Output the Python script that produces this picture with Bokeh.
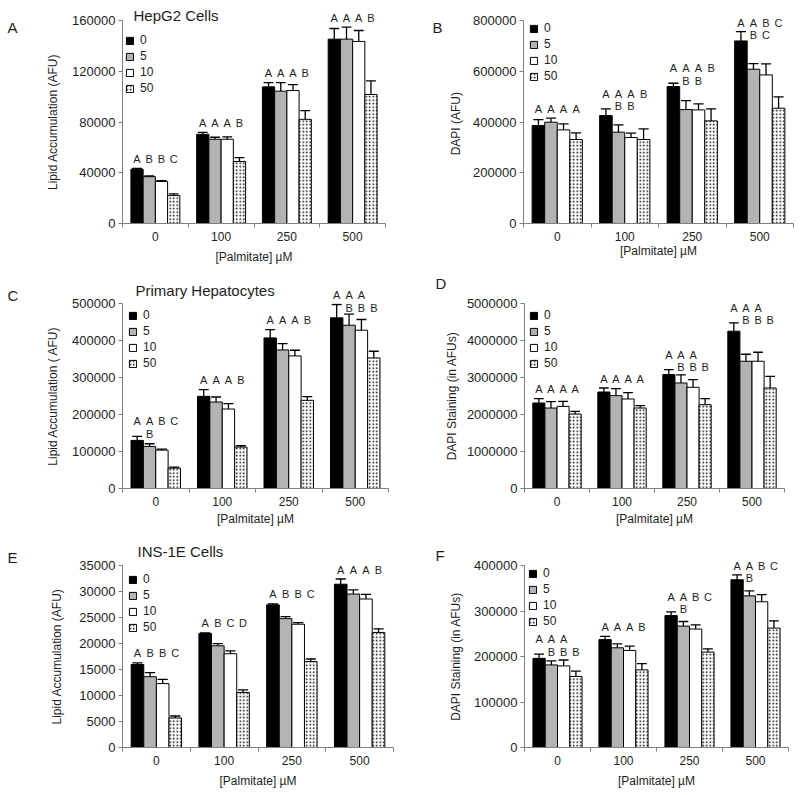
import numpy as np
from bokeh.plotting import figure
from bokeh.layouts import row, column
from bokeh.models import (Range1d, FixedTicker, NumeralTickFormatter, Label, LabelSet,
                          Legend, LegendItem, ColumnDataSource)
from bokeh.embed import file_html
from bokeh.resources import INLINE
from bokeh.core.properties import value

# ---------------- data ----------------
palmitate = ["0", "100", "250", "500"]          # x categories ([Palmitate] uM)
doses = ["0", "5", "10", "50"]                  # legend series

# rows = dose series (0, 5, 10, 50); columns = palmitate groups
hepg2_lipid_mean = [[42800, 70300, 107700, 145300],
                    [36900, 66400, 104300, 145300],
                    [33200, 66400, 104800, 143500],
                    [22000, 48900, 82100, 101700]]
hepg2_lipid_err = [[600, 1500, 3400, 8400],
                   [600, 1600, 6800, 9400],
                   [500, 1800, 4700, 8600],
                   [1300, 3100, 6800, 10700]]
hepg2_lipid_sig_top = [["A", "A", "A", "A"], ["B", "A", "A", "A"],
                       ["B", "A", "A", "A"], ["C", "B", "B", "B"]]
hepg2_lipid_sig_bot = [["", "", "", ""], ["", "", "", ""],
                       ["", "", "", ""], ["", "", "", ""]]

hepg2_dapi_mean = [[386000, 425400, 539600, 719500],
                   [399200, 359800, 449000, 607900],
                   [369000, 338800, 447700, 585600],
                   [330900, 330900, 404400, 454300]]
hepg2_dapi_err = [[23600, 26300, 13200, 36800],
                  [15700, 28800, 35500, 22300],
                  [23600, 17000, 23700, 43300],
                  [26200, 42000, 47300, 44600]]
hepg2_dapi_sig_top = [["A", "A", "A", "A"], ["A", "A", "A", "A"],
                      ["A", "A", "A", "B"], ["A", "B", "B", "C"]]
hepg2_dapi_sig_bot = [["", "", "", ""], ["", "B", "B", "B"],
                      ["", "B", "B", "C"], ["", "", "", ""]]

prim_lipid_mean = [[130000, 249100, 407000, 461200],
                   [113700, 233700, 374500, 441300],
                   [103800, 214800, 358300, 427800],
                   [55000, 111900, 238300, 352900]]
prim_lipid_err = [[10800, 18000, 22600, 36100],
                  [7200, 13600, 17200, 29800],
                  [2700, 14400, 15300, 28900],
                  [2700, 3600, 9900, 18000]]
prim_lipid_sig_top = [["A", "A", "A", "A"], ["A", "A", "A", "A"],
                      ["B", "A", "A", "A"], ["C", "B", "B", ""]]
prim_lipid_sig_bot = [["", "", "", ""], ["B", "", "", "B"],
                      ["", "", "", "B"], ["", "", "", "B"]]

prim_dapi_mean = [[2310000, 2608000, 3078000, 4251000],
                  [2175000, 2509000, 2852000, 3439000],
                  [2220000, 2419000, 2735000, 3439000],
                  [2013000, 2175000, 2265000, 2717000]]
prim_dapi_err = [[117000, 108000, 135000, 226000],
                 [171000, 190000, 217000, 190000],
                 [135000, 171000, 207000, 244000],
                 [72000, 63000, 162000, 316000]]
prim_dapi_sig_top = [["A", "A", "A", "A"], ["A", "A", "A", "A"],
                     ["A", "A", "A", "A"], ["A", "A", "", ""]]
prim_dapi_sig_bot = [["", "", "", ""], ["", "", "B", "B"],
                     ["", "", "B", "B"], ["", "", "B", "B"]]

ins_lipid_mean = [[15950, 21940, 27430, 31400],
                  [13620, 19550, 24780, 29510],
                  [12290, 18030, 23710, 28560],
                  [5680, 10590, 16520, 22130]]
ins_lipid_err = [[320, 100, 200, 1000],
                 [760, 440, 380, 820],
                 [820, 570, 320, 880],
                 [380, 500, 500, 700]]
ins_lipid_sig_top = [["A", "A", "A", "A"], ["B", "B", "B", "A"],
                     ["B", "C", "B", "A"], ["C", "D", "C", "B"]]
ins_lipid_sig_bot = [["", "", "", ""], ["", "", "", ""],
                     ["", "", "", ""], ["", "", "", ""]]

ins_dapi_mean = [[195900, 237100, 289900, 368700],
                 [181500, 219100, 266800, 333300],
                 [179300, 213300, 260300, 320300],
                 [156200, 170600, 209700, 262400]]
ins_dapi_err = [[9400, 7300, 8000, 10900],
                [8700, 8700, 10100, 10800],
                [13000, 9400, 9400, 15900],
                [11500, 13800, 7200, 16000]]
ins_dapi_sig_top = [["A", "A", "A", "A"], ["A", "A", "A", "A"],
                    ["A", "A", "B", "B"], ["", "B", "C", "C"]]
ins_dapi_sig_bot = [["", "", "", ""], ["B", "", "B", "B"],
                    ["B", "", "", ""], ["B", "", "", ""]]

# ---------------- style ----------------
FONT = "Liberation Sans"
TXT = "#1e1e1e"
AX = "#808080"
FILLS = ["#000000", "#b3b3b3", "#ffffff", "#ffffff"]
HATCH = [None, None, None, "dot"]
BW = 0.186      # bar width (category units)
CAP = 0.075     # half width of error bar caps
SIG_SIZE = "11px"
CAPH = 10.2     # px from text bottom to cap top for 11px letters


def panel(mean, err, sig_top, sig_bot, y_end, y_step, y_label, letter, title, L):
    fh = L["h"] - L["bt"] - L["bb"]
    p = figure(width=L["w"], height=L["h"], output_backend="svg", toolbar_location=None,
               title=None,
               x_range=Range1d(-0.5, len(palmitate) - 0.5), y_range=Range1d(0, y_end),
               min_border_left=L["bl"], min_border_right=L["br"],
               min_border_top=L["bt"], min_border_bottom=L["bb"])
    p.outline_line_color = None
    p.xgrid.visible = False
    p.ygrid.visible = False
    p.background_fill_color = "white"
    p.border_fill_color = "white"

    dpp = y_end / fh                       # data units per pixel
    idx = np.arange(len(palmitate), dtype=float)
    rends = []
    tops_all = []
    for j in range(len(doses)):
        xs = idx + (j - 1.5) * BW
        kw = dict(fill_color=FILLS[j], line_color="black", line_width=1)
        if HATCH[j]:
            kw.update(hatch_pattern=HATCH[j], hatch_color="black", hatch_scale=3.5,
                      hatch_weight=1.1)
        r = p.vbar(x=xs, top=mean[j], bottom=0, width=BW, **kw)
        rends.append(r)
        tops = np.array(mean[j], float) + np.array(err[j], float)
        tops_all.append(tops)
        p.segment(x0=xs, y0=mean[j], x1=xs, y1=tops, line_color="black", line_width=1.3)
        p.segment(x0=xs - CAP, y0=tops, x1=xs + CAP, y1=tops, line_color="black",
                  line_width=1.3)
    gm = np.max(np.array(tops_all), axis=0)

    # significance letters
    def room(y):                            # px between text cap top and frame top
        return (y_end - y) / dpp - CAPH

    lx, ly, lt = [], [], []
    outside = []
    for i in range(len(palmitate)):
        two = any(sig_bot[j][i] for j in range(len(doses)))
        y1 = gm[i] + (9 if two else 3.5) * dpp
        if two and room(y1) < 0:
            y1 = gm[i] + 3 * dpp
        y2 = y1 - 12.5 * dpp
        for j in range(len(doses)):
            x = idx[i] + (j - 1.5) * BW
            for txt, yy in ((sig_top[j][i], y1), (sig_bot[j][i], y2)):
                if not txt:
                    continue
                if room(yy) < -0.5:
                    outside.append((x, yy, txt))
                else:
                    lx.append(x); ly.append(yy); lt.append(txt)
    src = ColumnDataSource(dict(x=lx, y=ly, t=lt))
    p.add_layout(LabelSet(x="x", y="y", text="t", source=src, text_align="center",
                          text_baseline="bottom", text_font=value(FONT),
                          text_font_size=value(SIG_SIZE), text_color=TXT))
    # letters that reach above the frame top: side-panel labels are not clipped
    for x, yy, txt in outside:
        p.add_layout(Label(x=x, y=yy, x_units="data", y_units="data", text=txt,
                           text_align="center", text_baseline="bottom", text_font=FONT,
                           text_font_size=SIG_SIZE, text_color=TXT), "left")

    # legend
    nrow = len(doses)
    item_h, spacing = 15, 1
    leg_h = nrow * item_h + (nrow - 1) * spacing
    legend = Legend(items=[LegendItem(label=d, renderers=[r]) for d, r in zip(doses, rends)],
                    location=(L["lx"], fh - (L["ly"] - item_h / 2) - leg_h),
                    orientation="vertical", glyph_width=9, glyph_height=9,
                    label_height=item_h, label_width=10, spacing=spacing, padding=0,
                    margin=0, label_standoff=6, border_line_color=None,
                    background_fill_alpha=0, label_text_font=FONT,
                    label_text_font_size="12px", label_text_color=TXT,
                    label_text_baseline="middle")
    p.add_layout(legend)

    # axes
    xa = p.xaxis[0]
    xa.ticker = FixedTicker(ticks=[float(v) for v in idx],
                            minor_ticks=[float(v) - 0.5 for v in range(len(palmitate) + 1)])
    xa.major_label_overrides = {i: palmitate[i] for i in range(len(palmitate))}
    xa.major_tick_line_color = None
    xa.major_tick_out = 4
    xa.minor_tick_out = 4
    xa.minor_tick_in = 0
    xa.minor_tick_line_color = AX
    xa.major_label_standoff = 4
    xa.axis_label = "[Palmitate] µM"
    xa.axis_label_standoff = L["xs"]
    xa.major_label_text_font_size = "12px"

    ya = p.yaxis[0]
    ya.ticker = FixedTicker(ticks=list(range(0, y_end + 1, y_step)))
    ya.formatter = NumeralTickFormatter(format="0")
    ya.major_tick_out = 4
    ya.major_tick_in = 0
    ya.major_tick_line_color = AX
    ya.minor_tick_line_color = None
    ya.major_label_standoff = 3
    ya.axis_label = y_label
    ya.axis_label_standoff = L["ys"]
    ya.major_label_text_font_size = "13px"

    for ax in (xa, ya):
        ax.axis_line_color = AX
        ax.axis_line_width = 1
        ax.major_label_text_font = FONT
        ax.major_label_text_color = TXT
        ax.axis_label_text_font = FONT
        ax.axis_label_text_font_size = "12px"
        ax.axis_label_text_font_style = "normal"
        ax.axis_label_text_color = TXT

    if title:
        p.add_layout(Label(x=L["tx"], y=L["ty"], x_units="canvas", y_units="canvas",
                           text=title, text_font=FONT, text_font_size="15px",
                           text_color=TXT, text_align="left",
                           text_baseline="alphabetic"), "above")

    # panel letter, placed in the left side panel so it is not clipped to the frame
    p.add_layout(Label(x=L["px"], y=L["py"], x_units="canvas", y_units="canvas", text=letter,
                       text_font=FONT, text_font_size="15px", text_color=TXT,
                       text_align="left", text_baseline="middle"), "left")
    return p


LA = dict(w=400, h=268, bl=122, br=15, bt=18, bb=45, ys=9, xs=6, lx=3, ly=22,
          px=7, py=27, tx=133, ty=14.5)
LB = dict(w=400, h=268, bl=123, br=7, bt=20, bb=45, ys=7, xs=0, lx=6, ly=8,
          px=32, py=27)
LC = dict(w=400, h=262, bl=122, br=12, bt=35, bb=42, ys=9, xs=3, lx=6, ly=12,
          px=7, py=27, tx=135, ty=21.5)
LD = dict(w=400, h=262, bl=124, br=16, bt=35, bb=42, ys=5, xs=3, lx=5, ly=12,
          px=35, py=15)
LE = dict(w=400, h=263, bl=122, br=7, bt=32, bb=46, ys=12, xs=6, lx=6, ly=17,
          px=7, py=27, tx=137, ty=21)
LF = dict(w=400, h=263, bl=124, br=12, bt=35, bb=44, ys=8, xs=6, lx=4, ly=10,
          px=35, py=25)

pA = panel(hepg2_lipid_mean, hepg2_lipid_err, hepg2_lipid_sig_top, hepg2_lipid_sig_bot,
           160000, 40000, "Lipid Accumulation (AFU)", "A", "HepG2 Cells", LA)
pB = panel(hepg2_dapi_mean, hepg2_dapi_err, hepg2_dapi_sig_top, hepg2_dapi_sig_bot,
           800000, 200000, "DAPI  (AFU)", "B", None, LB)
pC = panel(prim_lipid_mean, prim_lipid_err, prim_lipid_sig_top, prim_lipid_sig_bot,
           500000, 100000, "Lipid Accumulation ( AFU)", "C", "Primary Hepatocytes", LC)
pD = panel(prim_dapi_mean, prim_dapi_err, prim_dapi_sig_top, prim_dapi_sig_bot,
           5000000, 1000000, "DAPI Staining (in AFUs)", "D", None, LD)
pE = panel(ins_lipid_mean, ins_lipid_err, ins_lipid_sig_top, ins_lipid_sig_bot,
           35000, 5000, "Lipid Accumulation (AFU)", "E", "INS-1E Cells", LE)
pF = panel(ins_dapi_mean, ins_dapi_err, ins_dapi_sig_top, ins_dapi_sig_bot,
           400000, 100000, "DAPI Staining (in AFUs)", "F", None, LF)

layout = column(row(pA, pB), row(pC, pD), row(pE, pF))
open("out.html", "w").write(file_html(layout, INLINE))
